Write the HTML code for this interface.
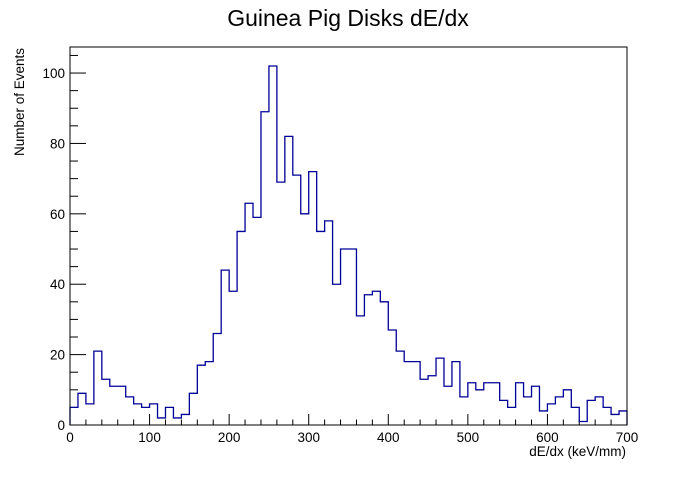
<!DOCTYPE html>
<html><head><meta charset="utf-8"><style>
body{margin:0;background:#fff}
svg text{font-family:"Liberation Sans",Arial,sans-serif;fill:#000}
</style></head><body>
<svg width="696" height="472" viewBox="0 0 696 472" xmlns="http://www.w3.org/2000/svg">
<rect width="696" height="472" fill="#fff"/>
<text x="348" y="26" font-size="23" text-anchor="middle">Guinea Pig Disks dE/dx</text>
<g id="axes"></g>
<path id="hist" fill="none" stroke="#000099" stroke-width="1.3"/>
<rect x="70" y="47" width="557" height="378" fill="none" stroke="#000" stroke-width="1"/>
<text x="626" y="456" font-size="13.5" text-anchor="end">dE/dx (keV/mm)</text>
<text transform="translate(24,48) rotate(-90)" font-size="13.5" text-anchor="end">Number of Events</text>
</svg>
<script>
const binEdgesStart = 0;
const binWidth = 10;
const counts = [5,9,6,21,13,11,11,8,6,5,6,2,5,2,3,9,17,18,26,44,38,55,63,59,89,102,69,82,71,60,72,55,58,40,50,50,31,37,38,35,27,21,18,18,13,14,19,11,18,8,12,10,12,12,7,5,12,8,11,4,6,8,10,5,1,7,8,5,3,4];
const xTicks = [0,100,200,300,400,500,600,700];
const yTicks = [0,20,40,60,80,100];
const X0=70,X1=627,Y0=425,Y1=47,XMAX=700,YMAX=107.4;
const sx=v=>X0+(v/XMAX)*(X1-X0);
const sy=v=>Y0-(v/YMAX)*(Y0-Y1);
const NS="http://www.w3.org/2000/svg";
let d="M"+sx(binEdgesStart)+","+sy(0);
counts.forEach((c,i)=>{const a=sx(binEdgesStart+i*binWidth),b=sx(binEdgesStart+(i+1)*binWidth);d+=" L"+a+","+sy(c)+" L"+b+","+sy(c);});
d+=" L"+sx(binEdgesStart+counts.length*binWidth)+","+sy(0);
document.getElementById('hist').setAttribute('d',d);
const g=document.getElementById('axes');
function line(x1,y1,x2,y2,name){const l=document.createElementNS(NS,'line');l.setAttribute('x1',x1);l.setAttribute('y1',y1);l.setAttribute('x2',x2);l.setAttribute('y2',y2);l.setAttribute('stroke','#000');l.setAttribute('stroke-width','1');


g.appendChild(l);}
function text(x,y,s,anchor,name){const t=document.createElementNS(NS,'text');t.setAttribute('x',x);t.setAttribute('y',y);t.setAttribute('font-size','13.5');t.setAttribute('text-anchor',anchor);t.textContent=s;


g.appendChild(t);}
for(let v=0;v<=XMAX;v+=20){const maj=v%100===0;line(sx(v),Y0,sx(v),Y0-(maj?11:5.5),maj?'x-major-tick':'x-minor-tick');}
xTicks.forEach(v=>text(sx(v),442,String(v),'middle','x-tick-label'));
for(let v=0;v<=YMAX;v+=5){const maj=v%20===0;line(X0,sy(v),X0+(maj?16:8),sy(v),maj?'y-major-tick':'y-minor-tick');}
yTicks.forEach(v=>text(65,sy(v)+5,String(v),'end','y-tick-label'));
</script>
</body></html>
